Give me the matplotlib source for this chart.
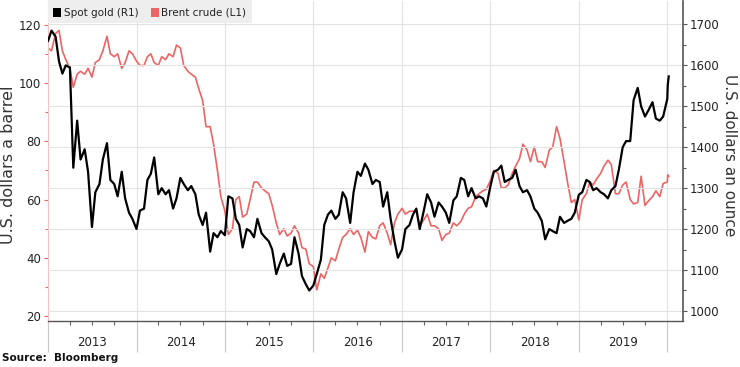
import matplotlib
matplotlib.use("Agg")
import matplotlib.pyplot as plt
import matplotlib.dates as mdates
from matplotlib.patches import Rectangle
import pandas as pd

# semi-monthly readings (1st and 15th), then the first days of 2020
dates = list(pd.date_range("2013-01-01", "2019-12-15", freq="SMS")) + \
    list(pd.to_datetime(["2020-01-01", "2020-01-03", "2020-01-07"]))

gold_2013 = [1660, 1685, 1670, 1610, 1580, 1600, 1595, 1350, 1465, 1370, 1395, 1340,
             1205, 1290, 1310, 1370, 1410, 1320, 1310, 1280, 1340, 1275, 1240, 1225]
gold_2014 = [1200, 1245, 1250, 1320, 1335, 1375, 1285, 1300, 1285, 1295, 1250, 1275,
             1325, 1310, 1295, 1305, 1285, 1235, 1210, 1240, 1145, 1190, 1180, 1195]
gold_2015 = [1185, 1280, 1275, 1225, 1210, 1155, 1200, 1195, 1180, 1225, 1190, 1180,
             1170, 1150, 1090, 1115, 1140, 1110, 1115, 1180, 1140, 1085, 1065, 1050]
gold_2016 = [1062, 1090, 1125, 1210, 1235, 1245, 1225, 1235, 1290, 1275, 1215, 1290,
             1340, 1330, 1360, 1345, 1310, 1320, 1315, 1255, 1290, 1225, 1170, 1130]
gold_2017 = [1150, 1200, 1210, 1235, 1250, 1200, 1245, 1285, 1265, 1230, 1265, 1255,
             1240, 1215, 1270, 1280, 1325, 1320, 1280, 1300, 1275, 1280, 1275, 1255]
gold_2018 = [1305, 1340, 1345, 1355, 1315, 1320, 1325, 1345, 1305, 1290, 1295, 1280,
             1250, 1240, 1220, 1175, 1200, 1195, 1190, 1230, 1215, 1220, 1225, 1240]
gold_2019 = [1284, 1290, 1320, 1315, 1295, 1300, 1290, 1285, 1275, 1295, 1305, 1345,
             1400, 1415, 1415, 1515, 1545, 1500, 1475, 1490, 1510, 1470, 1465, 1475]
gold_2020 = [1518, 1552, 1573]

brent_2013 = [112, 111, 117, 118, 111, 108, 105, 98.5, 103, 104, 103, 105,
              102, 107, 108, 111, 116, 110, 109, 110, 105, 107, 111, 110]
brent_2014 = [107.5, 106, 106, 109, 110, 107, 106, 109, 108, 110, 109, 113,
              112, 106, 104, 103, 102, 98, 94, 85, 85, 79, 70, 61]
brent_2015 = [56, 48, 50, 60, 61, 54, 55, 60, 66, 66, 64, 63,
              62, 58, 52, 48, 50, 47.5, 48.5, 51, 48.5, 43.5, 43, 38]
brent_2016 = [37, 29, 34.5, 33, 36.5, 40, 39, 43, 47, 48, 50, 48,
              49.5, 47, 42, 49, 47, 46.5, 51, 52, 48.5, 44.5, 52, 55]
brent_2017 = [57, 55, 56, 56, 56, 51, 53, 55, 51, 51, 50, 46,
              48, 48.5, 52, 51, 52.5, 55, 57, 57.5, 61, 62, 63, 63.5]
brent_2018 = [66.5, 70, 69, 64, 64, 65, 69, 71.5, 74, 79, 77, 73,
              78, 73, 73, 71, 77, 78, 85, 81, 73, 66, 59, 60]
brent_2019 = [53, 60, 62, 66, 65, 67, 69, 71.5, 73.5, 72, 62, 62,
              65, 66, 60, 58.5, 59, 68, 58, 59.5, 61, 63, 61, 65.5]
brent_2020 = [66, 68.5, 68]

gold = gold_2013 + gold_2014 + gold_2015 + gold_2016 + gold_2017 + gold_2018 + gold_2019 + gold_2020
brent = brent_2013 + brent_2014 + brent_2015 + brent_2016 + brent_2017 + brent_2018 + brent_2019 + brent_2020

years = [2013, 2014, 2015, 2016, 2017, 2018, 2019]
left_ticks = [20, 40, 60, 80, 100, 120]
right_ticks = [1000, 1100, 1200, 1300, 1400, 1500, 1600, 1700]

RED = "#ec6464"
GRID = "#e3e3e3"

fig = plt.figure(figsize=(7.4, 3.67), dpi=100)
ax = fig.add_axes([0.065, 0.125, 0.858, 0.873])
ax2 = ax.twinx()

ax.plot(dates, brent, color=RED, lw=1.2)
ax2.plot(dates, gold, color="black", lw=1.6)

ax.set_xlim(pd.Timestamp("2013-01-08"), pd.Timestamp("2020-03-06"))
ax.set_ylim(18.3, 128.2)
ax2.set_ylim(975, 1758)

# grid from right axis
for v in right_ticks:
    ax2.axhline(v, color=GRID, lw=0.8, zorder=0)
ax.set_zorder(ax2.get_zorder() - 1)
ax2.patch.set_visible(False)

boundaries = [pd.Timestamp(f"{y}-01-01") for y in years + [2020]]
for b in boundaries:
    ax.axvline(b, color=GRID, lw=0.8, zorder=0)

ax.set_yticks(left_ticks)
ax.set_yticks([30, 50, 70, 90, 110], minor=True)
ax.tick_params(axis="y", which="both", colors=RED, labelcolor="#222222",
               labelsize=8.5, length=3, width=0.8, pad=2)
ax.tick_params(axis="y", which="minor", length=2)

ax2.set_yticks(right_ticks)
ax2.set_yticks([1050, 1150, 1250, 1350, 1450, 1550, 1650], minor=True)
ax2.tick_params(axis="y", which="both", colors="#555555", labelcolor="#222222",
                labelsize=8.5, length=3, width=0.8, pad=2)
ax2.tick_params(axis="y", which="minor", length=2)

ax.set_xticks(boundaries)
ax.xaxis.set_major_formatter(plt.NullFormatter())
ax.xaxis.set_minor_locator(mdates.MonthLocator(bymonth=[4, 7, 10]))
ax.tick_params(axis="x", which="major", length=22, color="#c8c8c8", width=0.8)
ax.tick_params(axis="x", which="minor", length=3, color="#666666", width=0.8)
ax2.tick_params(axis="x", which="both", length=0)

for y in years:
    ax.text(pd.Timestamp(f"{y}-07-02"), -0.068, str(y), transform=ax.get_xaxis_transform(),
            ha="center", va="center", fontsize=8.5, color="#222222")

ax.spines["top"].set_visible(False)
ax2.spines["top"].set_visible(False)
ax2.spines["left"].set_visible(False)
ax2.spines["bottom"].set_visible(False)
ax.spines["right"].set_visible(False)
ax.spines["left"].set_color("#f3c4c4")
ax.spines["left"].set_linewidth(0.8)
ax.spines["bottom"].set_color("#555555")
ax.spines["bottom"].set_linewidth(1.0)
ax2.spines["right"].set_color("#555555")
ax2.spines["right"].set_linewidth(1.2)

fig.text(0.012, 0.55, "U.S. dollars a barrel", rotation=90, ha="center", va="center",
         fontsize=11.5, color="#333333")
fig.text(0.986, 0.578, "U.S. dollars an ounce", rotation=270, ha="center", va="center",
         fontsize=11, color="#333333")

# legend strip
fig.patches.append(Rectangle((0.065, 0.937), 0.275, 0.063, transform=fig.transFigure,
                             facecolor="#eeeeee", edgecolor="none", zorder=5))
fig.patches.append(Rectangle((0.072, 0.953), 0.011, 0.024, transform=fig.transFigure,
                             facecolor="black", edgecolor="none", zorder=6))
fig.text(0.086, 0.965, "Spot gold (R1)", fontsize=7.5, va="center", color="#222222", zorder=7)
fig.patches.append(Rectangle((0.204, 0.953), 0.011, 0.024, transform=fig.transFigure,
                             facecolor=RED, edgecolor="none", zorder=6))
fig.text(0.218, 0.965, "Brent crude (L1)", fontsize=7.5, va="center", color="#222222", zorder=7)

fig.text(0.003, 0.017, "Source:  Bloomberg", fontsize=7.5, fontweight="bold", color="#111111")

fig.savefig("out.png", dpi=100)
